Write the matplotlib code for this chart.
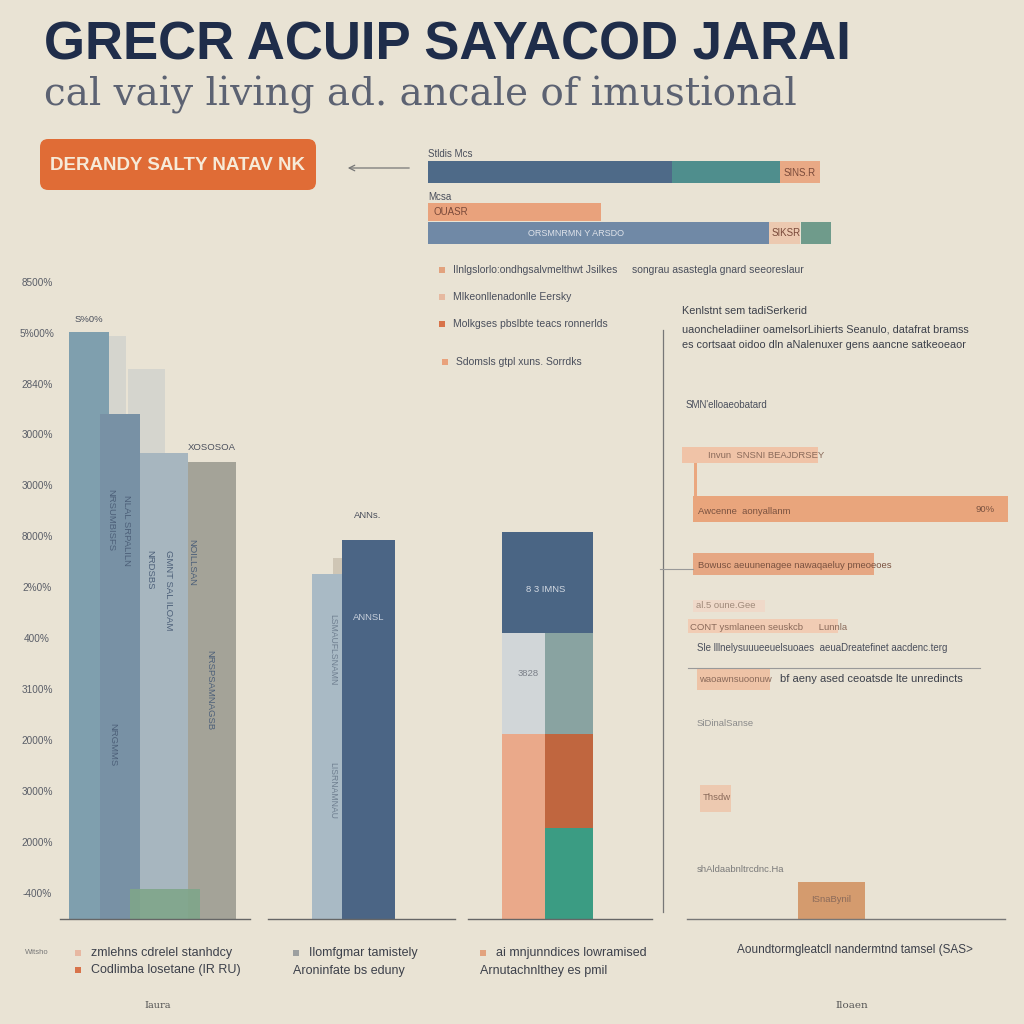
import matplotlib.pyplot as plt
from matplotlib.patches import FancyBboxPatch
from matplotlib.lines import Line2D

BG = "#e9e3d4"
NAVY = "#1f2d4a"
INK = "#4a4f5c"
SANS = ["Liberation Sans", "DejaVu Sans"]
SERIF = ["DejaVu Serif", "Liberation Serif"]

# left grouped chart (values on a 0-12.75 scale)
left_ticks = ["8500%", "5%00%", "2840%", "3000%", "3000%", "8000%", "2%0%",
              "400%", "3100%", "2000%", "3000%", "2000%", "-400%"]
left_vals = [11.53, 9.92, 9.16, 8.98]
left_pos = [1.53, 3.16, 5.47, 8.0]
left_w = [2.1, 2.1, 2.53, 2.53]
left_cols = ["#7f9fae", "#7891a5", "#a7b6bf", "#a4a398"]
ghost_vals = [11.45, 10.8]
ghost_pos = [3.0, 4.55]
ghost_w = [0.9, 1.9]
green_val = 0.59

# middle pair
mid_vals = [6.78, 7.45]
mid_cols = ["#a9bac5", "#4b6585"]
mid_tab = 7.09

# stacked columns: left column, right column, shared top block
stack_left = [3.63, 1.98]
stack_left_cols = ["#eaa98a", "#d1d6d8"]
stack_right = [1.79, 1.85, 1.98]
stack_right_cols = ["#3b9c83", "#c0663f", "#89a3a1"]
stack_top = 1.98

# top horizontal bars (percent of row)
top_row1 = [59.2, 26.2, 9.7]
top_row1_cols = ["#4e6a88", "#4f8e8d", "#e9a985"]
top_row2 = 42.0
top_row3 = [82.8, 7.5, 7.3]
top_row3_cols = ["#7089a6", "#ecc9b0", "#6f9b8b"]

# right horizontal bars
right_left = [5.7, 8.9, 8.9, 8.9, 7.5, 10.1, 10.9]
right_len = [39.1, 90.5, 52.0, 20.7, 43.1, 21.0, 8.9]
right_y = [8.61, 7.61, 6.59, 5.81, 5.44, 4.45, 2.24]
right_h = [0.30, 0.48, 0.41, 0.22, 0.26, 0.41, 0.50]
right_cols = ["#f0c3a7", "#e9a57c", "#e6a783", "#efd9c9", "#f1ccb4", "#eec3a6", "#edc9b0"]
right_col_bar = 0.69


def panel(fig, x0, y0, x1, y1):
    ax = fig.add_axes([x0 / 1024, 1 - y1 / 1024, (x1 - x0) / 1024, (y1 - y0) / 1024])
    ax.set_facecolor("none")
    ax.axis("off")
    return ax


def txt(fig, x, y, s, size=7.5, color=INK, **kw):
    kw.setdefault("va", "center")
    kw.setdefault("family", SANS)
    fig.text(x / 1024, 1 - y / 1024, s, fontsize=size, color=color, **kw)


def hline(fig, x0, x1, y, color="#6b6b6b", lw=1.0):
    fig.add_artist(Line2D([x0 / 1024, x1 / 1024], [1 - y / 1024, 1 - y / 1024],
                          color=color, lw=lw))


def vline(fig, x, y0, y1, color="#6b6b6b", lw=1.0):
    fig.add_artist(Line2D([x / 1024, x / 1024], [1 - y0 / 1024, 1 - y1 / 1024],
                          color=color, lw=lw))


fig = plt.figure(figsize=(10.24, 10.24), dpi=100, facecolor=BG)

# header
txt(fig, 44, 46, "GRECR ACUIP SAYACOD JARAI", size=38, color=NAVY, weight="bold")
txt(fig, 44, 95, "cal vaiy living ad. ancale of imustional", size=28,
    color="#5c6272", family=SERIF)
fig.add_artist(FancyBboxPatch((40 / 1024, 1 - 190 / 1024), 276 / 1024, 51 / 1024,
                              boxstyle="round,pad=0,rounding_size=0.008",
                              transform=fig.transFigure, fc="#e06c36", ec="none"))
txt(fig, 50, 166, "DERANDY SALTY NATAV NK", size=13.5, color="#f6ead8", weight="bold")
fig.add_artist(plt.Annotation("", xy=(345 / 1024, 1 - 168 / 1024),
                              xytext=(412 / 1024, 1 - 168 / 1024),
                              xycoords="figure fraction",
                              arrowprops=dict(arrowstyle="->", color="#777", lw=0.9)))

# top horizontal bars
ax = panel(fig, 428, 150, 840, 250)
ax.set_xlim(0, 100)
ax.set_ylim(10, 0)
left = 0
for v, c in zip(top_row1, top_row1_cols):
    ax.barh(2.2, v, left=left, height=2.2, color=c)
    left += v
ax.barh(6.2, top_row2, height=1.8, color="#e9a27c")
left = 0
for i, (v, c) in enumerate(zip(top_row3, top_row3_cols)):
    if i == 2:
        left += 0.3
    ax.barh(8.3, v, left=left, height=2.2, color=c)
    left += v
txt(fig, 428, 154, "Stldis Mcs", size=7)
txt(fig, 428, 197, "Mcsa", size=7)
txt(fig, 784, 173, "SINS.R", size=7, color="#7a4a3a")
txt(fig, 434, 212, "OUASR", size=7, color="#7a4a3a")
txt(fig, 528, 234, "ORSMNRMN Y ARSDO", size=6.5, color="#dfe3ea")
txt(fig, 772, 233, "SIKSR", size=7, color="#7a4a3a")

# legend-like notes
notes = [(437, 270, "#e2a27e", "Ilnlgslorlo:ondhgsalvmelthwt Jsilkes"),
         (437, 297, "#e6b9a0", "Mlkeonllenadonlle Eersky"),
         (437, 324, "#d8734a", "Molkgses pbslbte teacs ronnerlds"),
         (440, 362, "#e9a27c", "Sdomsls gtpl xuns. Sorrdks")]
for x, y, c, s in notes:
    fig.add_artist(plt.Rectangle(((x + 2) / 1024, 1 - (y + 3) / 1024), 6 / 1024, 6 / 1024,
                                 transform=fig.transFigure, fc=c, ec="none"))
    txt(fig, x + 16, y, s, size=7.5)
txt(fig, 632, 270, "songrau asastegla gnard seeoreslaur", size=7.5)

# right text block
vline(fig, 663, 330, 912, color="#777", lw=0.9)
txt(fig, 682, 311, "Kenlstnt sem tadiSerkerid", size=7.8, color="#3c404a")
txt(fig, 682, 329, "uaoncheladiiner oamelsorLihierts Seanulo, datafrat bramss",
    size=7.8, color="#3c404a")
txt(fig, 682, 345, "es cortsaat oidoo dln aNalenuxer gens aancne satkeoeaor",
    size=7.8, color="#3c404a")
txt(fig, 686, 405, "SMN'elloaeobatard", size=7)

# right horizontal bars
ax = panel(fig, 662, 380, 1010, 919)
ax.set_xlim(0, 100)
ax.set_ylim(0, 10)
ax.barh(right_y, right_len, left=right_left, height=right_h, color=right_cols)
ax.bar(48.7, right_col_bar, width=19.3, color="#d49b6e", align="center")
ax.bar(9.6, 0.61, bottom=7.85, width=0.9, color="#eaa77f")
hline(fig, 687, 1005, 919, color="#777")
hline(fig, 688, 980, 668, color="#999", lw=0.8)
hline(fig, 660, 693, 569, color="#999", lw=0.8)
txt(fig, 708, 455, "Invun  SNSNI BEAJDRSEY", size=6.8, color="#8a6a5a")
txt(fig, 698, 511, "Awcenne  aonyallanm", size=6.8, color="#7a5240")
txt(fig, 975, 510, "90%", size=6.8, color="#7a5240")
txt(fig, 698, 565, "Bowusc aeuunenagee nawaqaeluy pmeoeoes", size=6.8, color="#7a5240")
txt(fig, 696, 606, "al.5 oune.Gee", size=6.8, color="#a08a7a")
txt(fig, 690, 627, "CONT ysmlaneen seuskcb      Lunnla", size=6.8, color="#8a6a5a")
txt(fig, 697, 648, "Sle lllnelysuuueeuelsuoaes  aeuaDreatefinet aacdenc.terg", size=7)
txt(fig, 699, 680, "waoawnsuoonuw", size=6.8, color="#8a6a5a")
txt(fig, 780, 679, "bf aeny ased ceoatsde lte unredincts", size=8, color="#3c404a")
txt(fig, 697, 723, "SiDinalSanse", size=6.8, color="#8a8a8a")
txt(fig, 703, 798, "Thsdw", size=6.8, color="#8a6a5a")
txt(fig, 697, 869, "shAldaabnltrcdnc.Ha", size=6.8, color="#7a7a7a")
txt(fig, 811, 900, "ISnaBynil", size=6.8, color="#8a6a5a")
txt(fig, 855, 950, "Aoundtormgleatcll nandermtnd tamsel (SAS>", size=8.5,
    color="#3c404a", ha="center")
txt(fig, 852, 1006, "Iloaen", size=7.5, color="#555", ha="center", family=SERIF)

# left grouped chart
ax = panel(fig, 60, 270, 250, 919)
ax.set_xlim(0, 10)
ax.set_ylim(0, 12.75)
ax.bar(ghost_pos, ghost_vals, width=ghost_w, color="#c9cdcb", alpha=0.6, align="center")
ax.bar(left_pos, left_vals, width=left_w, color=left_cols)
ax.bar(5.53, green_val, width=3.7, color="#7fa68a", alpha=0.9)
hline(fig, 60, 250, 919, color="#666")
for i, s in enumerate(left_ticks):
    yv = 12.5 - i
    txt(fig, 37, 919 - yv * 50.9, s, size=7.2, color="#5a5e68", ha="center")
txt(fig, 89, 320, "S%0%", size=6.8, ha="center")
txt(fig, 212, 447, "XOSOSOA", size=6.8, ha="center")
for x, y, s in [(111, 520, "NRSUMBISFS"), (126, 530, "NLAL SRPALILN"),
                (113, 745, "NRGMMS"), (150, 570, "NRDSBS"),
                (168, 590, "GMNT SAL ILOAM"), (192, 562, "NOILLSAN"),
                (210, 690, "NRSPSAMNAGSB")]:
    txt(fig, x, y, s, size=6.8, color="#4d6079", rotation=270, ha="center")

# middle pair
ax = panel(fig, 268, 270, 455, 919)
ax.set_xlim(0, 10)
ax.set_ylim(0, 12.75)
ax.bar(3.72, mid_tab, width=0.48, color="#cfc6b5")
ax.bar([3.16, 5.37], mid_vals, width=[1.6, 2.83], color=mid_cols)
hline(fig, 268, 455, 919, color="#666")
txt(fig, 368, 516, "ANNs.", size=6.8, ha="center")
txt(fig, 369, 617, "ANNSL", size=6.8, color="#c8d0dc", ha="center")
txt(fig, 333, 650, "LSMAUFLSNAMN", size=6.2, color="#6f7f90", rotation=270, ha="center")
txt(fig, 333, 790, "LISRNAMNAU", size=6.2, color="#6f7f90", rotation=270, ha="center")

# stacked columns
ax = panel(fig, 468, 270, 652, 919)
ax.set_xlim(0, 10)
ax.set_ylim(0, 12.75)
bottom = 0
for v, c in zip(stack_left, stack_left_cols):
    ax.bar(3.02, v, bottom=bottom, width=2.34, color=c)
    bottom += v
bottom = 0
for v, c in zip(stack_right, stack_right_cols):
    ax.bar(5.49, v, bottom=bottom, width=2.61, color=c)
    bottom += v
ax.bar(4.32, stack_top, bottom=bottom, width=4.95, color="#4a6584")
hline(fig, 468, 652, 919, color="#666")
txt(fig, 546, 590, "8 3 IMNS", size=6.8, color="#d3d9e2", ha="center")
txt(fig, 528, 673, "3828", size=6.8, color="#7a7f88", ha="center")

# bottom captions
txt(fig, 37, 953, "Witsho", size=5.5, color="#777", ha="center")
legend_rows = [(75, 953, "#e7b8a2", "zmlehns cdrelel stanhdcy"),
               (75, 970, "#d8734a", "Codlimba losetane (IR RU)"),
               (293, 953, "#9da0a0", "Ilomfgmar tamistely"),
               (480, 953, "#e2a27e", "ai mnjunndices lowramised")]
for x, y, c, s in legend_rows:
    fig.add_artist(plt.Rectangle((x / 1024, 1 - (y + 3) / 1024), 6 / 1024, 6 / 1024,
                                 transform=fig.transFigure, fc=c, ec="none"))
    txt(fig, x + 16, y, s, size=9, color="#3c404a")
txt(fig, 293, 971, "Aroninfate bs eduny", size=9, color="#3c404a")
txt(fig, 480, 971, "Arnutachnlthey es pmil", size=9, color="#3c404a")
txt(fig, 158, 1005, "Iaura", size=7, color="#555", ha="center", family=SERIF)

fig.savefig("out.png", dpi=100, facecolor=BG)
